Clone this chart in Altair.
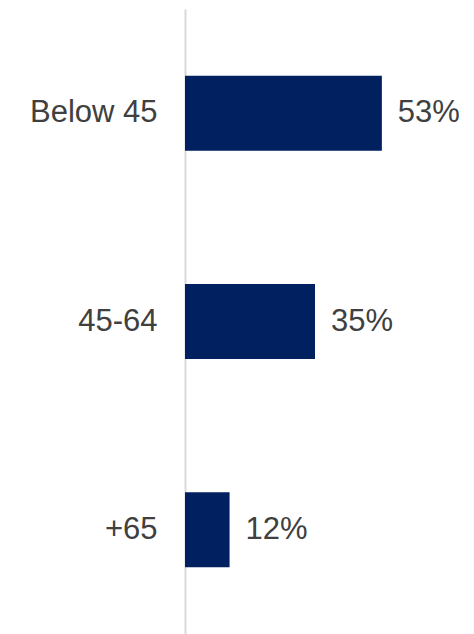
import altair as alt
import pandas as pd

categories = ["Below 45", "45-64", "+65"]
values = [53, 35, 12]
labels = ["53%", "35%", "12%"]

df = pd.DataFrame({"group": categories, "value": values, "label": labels})

FONT = "Liberation Sans"
TEXT_COLOR = "#404040"
BAR_COLOR = "#002060"

y_enc = alt.Y(
    "group:N",
    sort=categories,
    scale=alt.Scale(paddingInner=0.64, paddingOuter=0.32),
    axis=alt.Axis(
        title=None,
        ticks=False,
        labelPadding=28,
        labelFontSize=31,
        labelFont=FONT,
        labelColor=TEXT_COLOR,
        domainColor="#d9d9d9",
        domainWidth=2,
        grid=False,
    ),
)
x_enc = alt.X("value:Q", scale=alt.Scale(domain=[0, 70]), axis=None)

bars = alt.Chart(df).mark_bar(color=BAR_COLOR).encode(x=x_enc, y=y_enc)
texts = alt.Chart(df).mark_text(
    align="left", baseline="middle", dx=16, fontSize=31, font=FONT, color=TEXT_COLOR
).encode(x=x_enc, y=y_enc, text="label:N")

chart = (
    alt.layer(bars, texts)
    .properties(
        width=260,
        height=625,
        autosize=alt.AutoSizeParams(type="none"),
        padding={"left": 185, "top": 9, "right": 29, "bottom": 0},
        background="white",
    )
    .configure_view(strokeWidth=0)
)

chart.save("out.html", embed_options={"renderer": "svg", "actions": False})
